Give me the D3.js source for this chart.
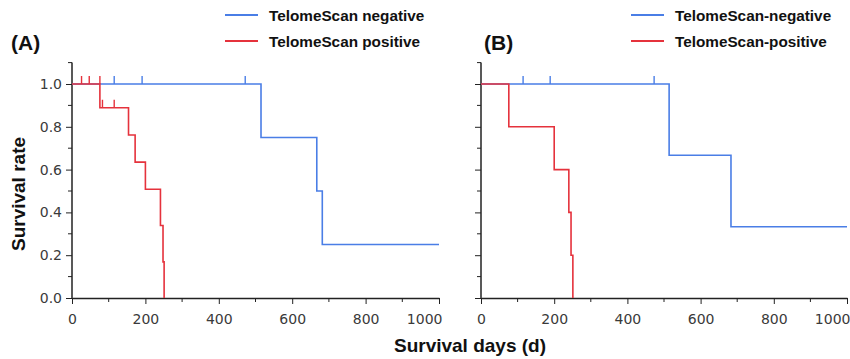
<!DOCTYPE html>
<html><head><meta charset="utf-8">
<script src="https://cdn.jsdelivr.net/npm/d3@7"></script>
<style>
body{margin:0;background:#fff;}
svg{display:block;}
.tick text{font-family:"DejaVu Sans",sans-serif;font-size:14px;fill:#3a3a3a;}
.bold{font-family:"Liberation Sans",Arial,sans-serif;font-weight:bold;fill:#111;}
</style>
</head><body>
<svg id="chart" width="850" height="359"></svg>
<script>
// ---- data ----
const xTicksMajor = [0, 200, 400, 600, 800, 1000];
const xTicksMinor = [100, 300, 500, 700, 900];
const yTicksMajor = [0, 0.2, 0.4, 0.6, 0.8, 1.0];
const yTicksMinor = [0.1, 0.3, 0.5, 0.7, 0.9, 1.1];

// Panel A
const negA_times = [0, 515, 667, 682, 1000];
const negA_surv  = [1.0, 0.75, 0.50, 0.25, 0.25];
const negA_censorTimes = [115, 191, 472];
const negA_censorSurv  = [1.0, 1.0, 1.0];
const posA_times = [0, 76, 154, 172, 200, 241, 248, 251];
const posA_surv  = [1.0, 0.889, 0.762, 0.635, 0.508, 0.339, 0.169, 0];
const posA_censorTimes = [26, 47, 76, 83, 115];
const posA_censorSurv  = [1.0, 1.0, 1.0, 0.889, 0.889];

// Panel B
const negB_times = [0, 514, 683, 1000];
const negB_surv  = [1.0, 0.667, 0.333, 0.333];
const negB_censorTimes = [115, 189, 473];
const negB_censorSurv  = [1.0, 1.0, 1.0];
const posB_times = [0, 76, 200, 240, 246, 251];
const posB_surv  = [1.0, 0.8, 0.6, 0.4, 0.2, 0];
const posB_censorTimes = [];
const posB_censorSurv  = [];

const legendA = ["TelomeScan negative", "TelomeScan positive"];
const legendB = ["TelomeScan-negative", "TelomeScan-positive"];
const colors = ["#4a7ee6", "#e5323c"];

// ---- drawing ----
const svg = d3.select("#chart");

function panel(opts){
  const x = d3.scaleLinear().domain([0,1000]).range([opts.x0, opts.x1]);
  const y = d3.scaleLinear().domain([0,1]).range([298, 84]);
  const g = svg.append("g");

  // x axis
  const xAxis = d3.axisBottom(x).tickValues(xTicksMajor).tickFormat(d3.format("d"))
      .tickSize(6).tickSizeOuter(0).tickPadding(10);
  const gx = g.append("g").attr("transform", `translate(0,${y(0)})`).call(xAxis);
  gx.append("g").selectAll("line").data(xTicksMinor).join("line")
    .attr("x1", d=>x(d)).attr("x2", d=>x(d)).attr("y1",0).attr("y2",4)
    .attr("stroke","#222").attr("stroke-width",1);
  gx.select(".domain").attr("stroke","#222").attr("stroke-width",1.5);
  gx.selectAll(".tick line").attr("stroke","#222");
  // last label kept inside: right-aligned near its tick
  gx.selectAll(".tick").filter(d => d === 1000).select("text")
    .attr("text-anchor","end").attr("x",3);

  // y axis
  const yAxis = d3.axisLeft(y).tickValues(yTicksMajor)
      .tickFormat(opts.yLabels ? d3.format(".1f") : () => "")
      .tickSize(6).tickSizeOuter(0).tickPadding(4);
  const gy = g.append("g").attr("transform", `translate(${x(0)},0)`).call(yAxis);
  gy.select(".domain").attr("d", `M0,${y(0)}V${y(1.1)}`).attr("stroke","#222").attr("stroke-width",1.5);
  gy.selectAll(".tick line").attr("stroke","#222");
  gy.append("g").selectAll("line").data(yTicksMinor).join("line")
    .attr("x1",0).attr("x2",-4).attr("y1",d=>y(d)).attr("y2",d=>y(d))
    .attr("stroke","#222").attr("stroke-width",1);

  const line = d3.line().x(d=>x(d[0])).y(d=>y(d[1])).curve(d3.curveStepAfter);
  opts.series.forEach((s,i)=>{
    const pts = s.times.map((t,j)=>[t, s.surv[j]]);
    g.append("path").datum(pts).attr("d", line)
      .attr("fill","none").attr("stroke", colors[s.c]).attr("stroke-width",1.6);
    g.append("g").selectAll("line").data(s.ct.map((t,j)=>[t, s.cs[j]])).join("line")
      .attr("x1", d=>x(d[0])).attr("x2", d=>x(d[0]))
      .attr("y1", d=>y(d[1])).attr("y2", d=>y(d[1])-8)
      .attr("stroke", colors[s.c]).attr("stroke-width",1.4);
  });

  // panel label
  svg.append("text").attr("class","bold").attr("x",opts.labX).attr("y",50)
    .attr("font-size",21).text(opts.label);

  // legend
  opts.legend.forEach((t,i)=>{
    const ly = 15 + i*26;
    svg.append("line").attr("x1",opts.legX).attr("x2",opts.legX+33)
      .attr("y1",ly).attr("y2",ly).attr("stroke",colors[i]).attr("stroke-width",2);
    svg.append("text").attr("class","bold").attr("x",opts.legX+44).attr("y",ly+6)
      .attr("font-size",15.3).text(t);
  });
}

panel({x0:72, x1:439, yLabels:true, label:"(A)", labX:11, legX:225, legend:legendA,
  series:[
    {times:negA_times, surv:negA_surv, ct:negA_censorTimes, cs:negA_censorSurv, c:0},
    {times:posA_times, surv:posA_surv, ct:posA_censorTimes, cs:posA_censorSurv, c:1}
  ]});
panel({x0:481, x1:847, yLabels:false, label:"(B)", labX:484, legX:631, legend:legendB,
  series:[
    {times:negB_times, surv:negB_surv, ct:negB_censorTimes, cs:negB_censorSurv, c:0},
    {times:posB_times, surv:posB_surv, ct:posB_censorTimes, cs:posB_censorSurv, c:1}
  ]});

// axis titles
svg.append("text").attr("class","bold").attr("font-size",19)
  .attr("text-anchor","middle").attr("transform","translate(25,194) rotate(-90)")
  .text("Survival rate");
svg.append("text").attr("class","bold").attr("font-size",19)
  .attr("text-anchor","middle").attr("x",470).attr("y",352)
  .text("Survival days (d)");
</script>
</body></html>
